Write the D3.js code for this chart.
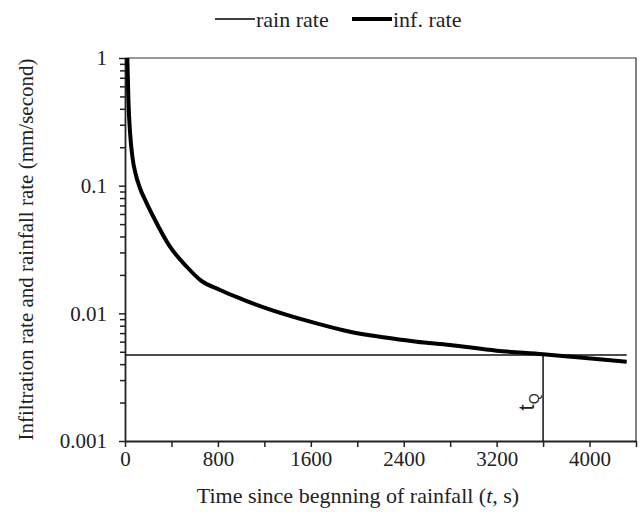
<!DOCTYPE html>
<html>
<head>
<meta charset="utf-8">
<script src="https://cdn.jsdelivr.net/npm/d3@7"></script>
<style>
  body { margin: 0; background: #fff; }
</style>
</head>
<body>
<div id="chart"></div>
<script>
// infiltration rate curve (time in s, rate in mm/s)
const infTime = [20, 30, 45, 65, 90, 130, 180, 244, 387, 531, 646, 818, 1000, 1200, 1400, 1650, 1937, 2224, 2512, 2798, 3200, 3600, 3918, 4320];
const infRate = [1, 0.45, 0.25, 0.165, 0.125, 0.095, 0.075, 0.0571, 0.0333, 0.0232, 0.0183, 0.01524, 0.0130, 0.0111, 0.00968, 0.00835, 0.00718, 0.00649, 0.0060, 0.00565, 0.0051, 0.00478, 0.0045, 0.00418];

// constant rain rate
const rainTime = [0, 4320];
const rainRate = [0.00472, 0.00472];

// time of ponding
const tQ = 3600;

const xTicks = [0, 400, 800, 1200, 1600, 2000, 2400, 2800, 3200, 3600, 4000, 4400];
const xTickLabels = [0, 800, 1600, 2400, 3200, 4000];
const yTickLabels = [1, 0.1, 0.01, 0.001];

const seriesNames = ['rain rate', 'inf. rate'];

const SERIF = '"Liberation Serif", "Times New Roman", Times, serif';

const W = 640, H = 512;
const margin = { top: 58, right: 4, bottom: 71, left: 125 };
const width = W - margin.left - margin.right;
const height = H - margin.top - margin.bottom;

const svg = d3.select('#chart').append('svg')
  .attr('width', W)
  .attr('height', H)
  .style('font-family', SERIF);

const g = svg.append('g')
  .attr('transform', `translate(${margin.left},${margin.top})`);

const x = d3.scaleLinear().domain([0, 4400]).range([0, width]);
const y = d3.scaleLog().domain([0.001, 1]).range([height, 0]);

// frame (top and right)
g.append('path')
  .attr('d', `M0,0H${width}V${height}`)
  .attr('fill', 'none')
  .attr('stroke', '#333')
  .attr('stroke-width', 1.2);

// x axis
const xAxis = g.append('g')
  .attr('transform', `translate(0,${height})`)
  .call(d3.axisBottom(x).tickValues(xTicks).tickSize(6).tickSizeOuter(0)
    .tickFormat(d => xTickLabels.includes(d) ? d : ''));
xAxis.attr('font-family', SERIF);
xAxis.select('.domain').attr('stroke', '#222').attr('stroke-width', 1.8);
xAxis.selectAll('.tick line').attr('stroke', '#222').attr('stroke-width', 1.5);
xAxis.selectAll('.tick text')
  .style('font-family', SERIF)
  .attr('font-size', 21)
  .attr('fill', '#222')
  .attr('dy', '0.65em')
  .attr('y', 11);

// y axis (major ticks)
const minorTicks = [];
[0.001, 0.01, 0.1].forEach(base => {
  for (let k = 2; k <= 9; k++) minorTicks.push(base * k);
});

const yAxis = g.append('g')
  .call(d3.axisLeft(y).tickValues(yTickLabels).tickSize(6).tickSizeOuter(0)
    .tickFormat(d => String(d)));
yAxis.attr('font-family', SERIF);
yAxis.select('.domain').attr('stroke', '#222').attr('stroke-width', 1.8);
yAxis.selectAll('.tick line').attr('stroke', '#222').attr('stroke-width', 1.5);
yAxis.selectAll('.tick text')
  .style('font-family', SERIF)
  .attr('font-size', 21)
  .attr('fill', '#222')
  .attr('x', -18);

// y axis minor ticks
g.append('g')
  .call(d3.axisLeft(y).tickValues(minorTicks).tickSize(5).tickFormat(''))
  .call(a => a.select('.domain').remove())
  .selectAll('.tick line').attr('stroke', '#222').attr('stroke-width', 1.5);

// axis titles
const xTitle = svg.append('text')
  .attr('x', 358)
  .attr('y', 503)
  .attr('text-anchor', 'middle')
  .attr('fill', '#222')
  .attr('font-size', 22);
xTitle.append('tspan').text('Time since begnning of rainfall (');
xTitle.append('tspan').attr('font-style', 'italic').text('t');
xTitle.append('tspan').text(', s)');

svg.append('text')
  .attr('transform', `translate(33,${margin.top + height / 2}) rotate(-90)`)
  .attr('text-anchor', 'middle')
  .attr('fill', '#222')
  .attr('font-size', 21)
  .text('Infiltration rate and rainfall rate (mm/second)');

// rain rate line
const line = d3.line()
  .x(d => x(d[0]))
  .y(d => y(d[1]));

g.append('path')
  .datum(rainTime.map((t, i) => [t, rainRate[i]]))
  .attr('d', line)
  .attr('fill', 'none')
  .attr('stroke', '#111')
  .attr('stroke-width', 1.5);

// tQ marker
g.append('line')
  .attr('x1', x(tQ)).attr('x2', x(tQ))
  .attr('y1', y(rainRate[0])).attr('y2', height)
  .attr('stroke', '#111')
  .attr('stroke-width', 1.5);

const tqLabel = g.append('text')
  .attr('transform', `translate(${x(tQ) - 9},${y(rainRate[0]) + 47}) rotate(-90)`)
  .attr('text-anchor', 'middle')
  .attr('fill', '#222')
  .attr('font-size', 22)
  .style('font-family', '"Liberation Sans", Arial, sans-serif');
tqLabel.append('tspan').text('t');
tqLabel.append('tspan').attr('font-size', 14).attr('dy', 5).text('Q');

// infiltration rate curve
g.append('path')
  .datum(infTime.map((t, i) => [t, infRate[i]]))
  .attr('d', line.curve(d3.curveMonotoneX))
  .attr('fill', 'none')
  .attr('stroke', '#000')
  .attr('stroke-width', 4)
  .attr('stroke-linejoin', 'round');

// legend
const legend = svg.append('g').attr('transform', 'translate(215,19)');
const legendItems = [
  { name: seriesNames[0], x: 0, w: 1.5 },
  { name: seriesNames[1], x: 137, w: 4 }
];
legendItems.forEach(item => {
  legend.append('line')
    .attr('x1', item.x).attr('x2', item.x + 40)
    .attr('y1', 0).attr('y2', 0)
    .attr('stroke', '#000')
    .attr('stroke-width', item.w);
  legend.append('text')
    .attr('x', item.x + 41)
    .attr('y', 8)
    .attr('fill', '#222')
    .attr('font-size', 22)
    .text(item.name);
});
</script>
</body>
</html>
